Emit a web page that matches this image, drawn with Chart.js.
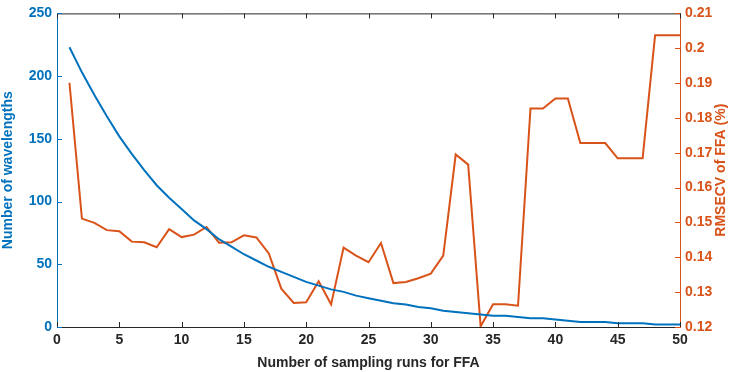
<!DOCTYPE html>
<html lang="en">
<head>
    <meta charset="UTF-8">
    <title>Wavelengths vs RMSECV</title>
    <script src="https://cdn.jsdelivr.net/npm/chart.js"></script>
    <style>
        body { margin: 0; background: #fff; }
        .wrap { width: 734px; height: 372px; }
    </style>
</head>
<body>
    <div class="wrap"><canvas id="cv"></canvas></div>

    <script>
        const runs = Array.from({ length: 50 }, (_, i) => i + 1);

        const wavelengths = [
            223, 203, 185, 168, 152, 138, 125, 113, 103, 94,
            85, 78, 70, 64, 58, 53, 48, 44, 40, 36,
            33, 30, 28, 25, 23, 21, 19, 18, 16, 15,
            13, 12, 11, 10, 9, 9, 8, 7, 7, 6,
            5, 4, 4, 4, 3, 3, 3, 2, 2, 2
        ];

        const rmsecv = [
            0.1901, 0.1511, 0.1499, 0.1478, 0.1475, 0.1445, 0.1443, 0.1429, 0.1481, 0.1458,
            0.1465, 0.1487, 0.1442, 0.1443, 0.1463, 0.1457, 0.1411, 0.1310, 0.1269, 0.1271,
            0.1331, 0.1265, 0.1428, 0.1405, 0.1386, 0.1441, 0.1326, 0.1329, 0.1340, 0.1353,
            0.1405, 0.1695, 0.1666, 0.1202, 0.1265, 0.1265, 0.1261, 0.1827, 0.1827, 0.1856,
            0.1856, 0.1728, 0.1728, 0.1728, 0.1684, 0.1684, 0.1684, 0.2037, 0.2037, 0.2037
        ];

        const BLUE = '#0072BD';
        const ORANGE = '#D95319';
        const AXIS = '#262626';
        const FONT = "'Liberation Sans', Arial, sans-serif";
        const RIGHT_TITLE = 'RMSECV of FFA (%)';

        // MATLAB-style inward ticks, top box line, and right title read bottom-up
        const boxTicks = {
            id: 'boxTicks',
            afterDraw(chart) {
                const { ctx, chartArea: a, scales } = chart;
                const len = 5;
                ctx.save();
                ctx.lineWidth = 1;
                ctx.strokeStyle = AXIS;
                scales.x.ticks.forEach(t => {
                    const px = Math.round(scales.x.getPixelForValue(t.value)) + 0.5;
                    ctx.beginPath();
                    ctx.moveTo(px, a.bottom); ctx.lineTo(px, a.bottom - len);
                    ctx.moveTo(px, a.top); ctx.lineTo(px, a.top + len);
                    ctx.stroke();
                });
                ctx.beginPath();
                ctx.moveTo(a.left, a.top + 0.5); ctx.lineTo(a.right, a.top + 0.5);
                ctx.stroke();

                ctx.strokeStyle = BLUE;
                scales.y.ticks.forEach(t => {
                    const py = Math.round(scales.y.getPixelForValue(t.value)) + 0.5;
                    ctx.beginPath();
                    ctx.moveTo(a.left, py); ctx.lineTo(a.left + len, py);
                    ctx.stroke();
                });

                ctx.strokeStyle = ORANGE;
                scales.y1.ticks.forEach(t => {
                    const py = Math.round(scales.y1.getPixelForValue(t.value)) + 0.5;
                    ctx.beginPath();
                    ctx.moveTo(a.right, py); ctx.lineTo(a.right - len, py);
                    ctx.stroke();
                });

                ctx.translate(chart.width - 13, (a.top + a.bottom) / 2);
                ctx.rotate(-Math.PI / 2);
                ctx.fillStyle = ORANGE;
                ctx.font = 'bold 14px ' + FONT;
                ctx.textAlign = 'center';
                ctx.textBaseline = 'middle';
                ctx.fillText(RIGHT_TITLE, 0, 0);
                ctx.restore();
            }
        };

        new Chart(document.getElementById('cv'), {
            type: 'line',
            data: {
                labels: runs,
                datasets: [
                    {
                        label: 'Number of wavelengths',
                        data: wavelengths,
                        borderColor: BLUE,
                        borderWidth: 2,
                        pointRadius: 0,
                        tension: 0,
                        yAxisID: 'y'
                    },
                    {
                        label: RIGHT_TITLE,
                        data: rmsecv,
                        borderColor: ORANGE,
                        borderWidth: 2,
                        pointRadius: 0,
                        tension: 0,
                        yAxisID: 'y1'
                    }
                ]
            },
            options: {
                responsive: true,
                maintainAspectRatio: false,
                animation: false,
                layout: { padding: { top: 13, right: 0, left: 0, bottom: 0 } },
                plugins: {
                    legend: { display: false },
                    tooltip: { enabled: false }
                },
                scales: {
                    x: {
                        type: 'linear',
                        min: 0, max: 50,
                        grid: { display: false, drawTicks: false },
                        border: { color: AXIS, width: 1 },
                        ticks: {
                            stepSize: 5, color: AXIS, padding: 5,
                            font: { family: FONT, size: 14, weight: 'bold' }
                        },
                        title: {
                            display: true,
                            text: 'Number of sampling runs for FFA',
                            color: AXIS,
                            padding: { top: 1, bottom: 0 },
                            font: { family: FONT, size: 14, weight: 'bold' }
                        },
                        afterFit: s => { s.height = 45; }
                    },
                    y: {
                        position: 'left',
                        min: 0, max: 250,
                        grid: { display: false, drawTicks: false },
                        border: { color: BLUE, width: 1 },
                        ticks: {
                            stepSize: 50, color: BLUE, padding: 5,
                            font: { family: FONT, size: 14, weight: 'bold' }
                        },
                        title: {
                            display: true,
                            text: 'Number of wavelengths',
                            color: BLUE,
                            padding: { top: 0, bottom: 2 },
                            font: { family: FONT, size: 14, weight: 'bold' }
                        },
                        afterFit: s => { s.width = 57; }
                    },
                    y1: {
                        position: 'right',
                        min: 0.12, max: 0.21,
                        grid: { display: false, drawTicks: false },
                        border: { color: ORANGE, width: 1 },
                        ticks: {
                            stepSize: 0.01, color: ORANGE, padding: 5,
                            font: { family: FONT, size: 14, weight: 'bold' },
                            callback: v => parseFloat(v.toFixed(2)).toString()
                        },
                        afterFit: s => { s.width = 54; }
                    }
                }
            },
            plugins: [boxTicks]
        });
    </script>
</body>
</html>
